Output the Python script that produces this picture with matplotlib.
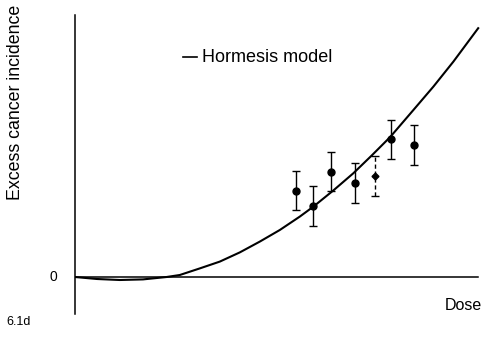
import matplotlib.pyplot as plt

plt.rcParams['font.family'] = ['Liberation Sans', 'DejaVu Sans']

# hormesis model curve (dose, excess incidence)
model_dose = [0.0, 0.55, 1.12, 1.7, 2.29, 2.62, 3.12, 3.62, 4.12, 4.62,
              5.12, 5.62, 5.96, 6.46, 6.96, 7.42, 7.88, 8.46, 8.96, 9.46, 10.08]
model_inc = [0.0, -0.1, -0.15, -0.12, 0.0, 0.1, 0.43, 0.77, 1.23, 1.77,
             2.35, 3.02, 3.52, 4.33, 5.19, 6.08, 7.0, 8.35, 9.52, 10.77, 12.44]

# observed points with error bars
obs_dose = [5.53, 5.94, 6.39, 7.01, 7.51, 7.89, 8.48]
obs_inc = [4.32, 3.55, 5.27, 4.69, 5.05, 6.89, 6.6]
obs_err = [0.96, 0.98, 0.98, 1.0, 0.99, 0.98, 0.99]

fig = plt.figure(figsize=(4.88, 3.51), dpi=100)
ax = fig.add_axes([75/488, 1 - 314/351, 405/488, 299/351])

ax.plot(model_dose, model_inc, color='black', lw=1.5, solid_joinstyle='round')
ax.axhline(0, xmin=0, xmax=0.995, color='black', lw=1.1)

for i in range(len(obs_dose)):
    dashed = (i == 4)
    eb = ax.errorbar(obs_dose[i], obs_inc[i], yerr=obs_err[i], fmt='o' if not dashed else 'D',
                     color='black', ms=5 if not dashed else 3.5, elinewidth=1.0,
                     capsize=3, capthick=1.0)
    if dashed:
        eb[2][0].set_linestyle((0, (3, 2)))

ax.set_xlim(0, 10.125)
ax.set_ylim(-1.85, 13.1)
for s in ['top', 'right', 'bottom']:
    ax.spines[s].set_visible(False)
ax.spines['left'].set_linewidth(1.1)
ax.set_xticks([])
ax.set_yticks([])

ax.text(-0.045, 0, '0', transform=ax.get_yaxis_transform(), ha='right', va='center', fontsize=10)
fig.text(16/488, 1 - 102/351, 'Excess cancer incidence', rotation=90, ha='center', va='center', fontsize=12.8)
fig.text(482/488, 1 - 305/351, 'Dose', ha='right', va='center', fontsize=11.5)
fig.text(6/488, 1 - 322/351, '6.1d', ha='left', va='center', fontsize=9)

ax.plot([183/488, 197/488], [1 - 57/351] * 2, color='black', lw=1.2, transform=fig.transFigure)
fig.text(202/488, 1 - 57/351, 'Hormesis model', ha='left', va='center', fontsize=13)

fig.savefig('out.png', dpi=100)
